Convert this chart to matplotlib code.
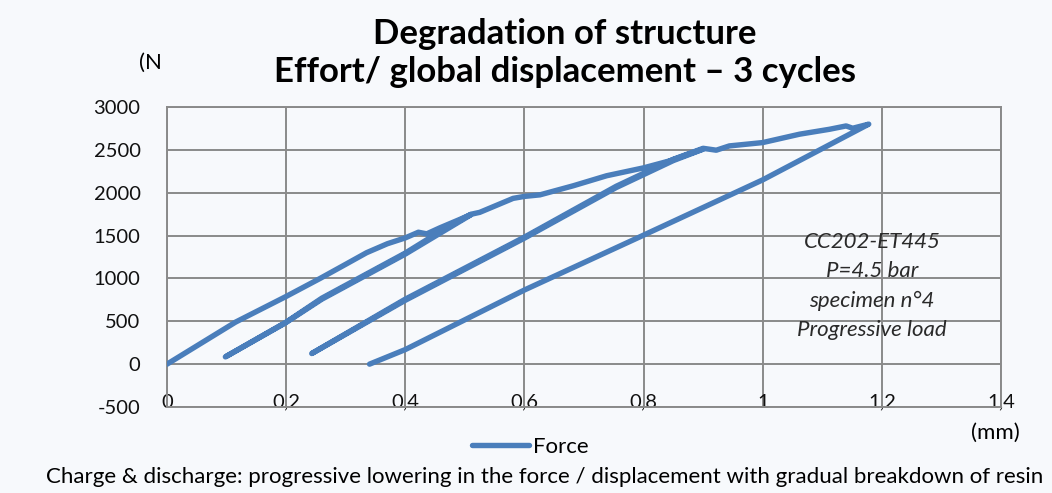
import numpy as np
import matplotlib
matplotlib.use("Agg")
import matplotlib.pyplot as plt
from matplotlib.ticker import FuncFormatter, MultipleLocator

plt.rcParams['font.family'] = ['Lato', 'DejaVu Sans']

# displacement (mm) / force (N), one path per segment
load1_x = [0, 0.115, 0.2, 0.257, 0.3, 0.335, 0.37, 0.4, 0.422, 0.436, 0.458, 0.492, 0.51]
load1_y = [0, 490, 790, 1000, 1165, 1300, 1405, 1473, 1539, 1520, 1590, 1690, 1745]
unload1_x = [0.51, 0.4, 0.26, 0.198, 0.098]
unload1_y = [1742, 1284, 758, 478, 85]
reload1_x = [0.098, 0.2, 0.26, 0.4, 0.458, 0.51]
reload1_y = [85, 490, 770, 1296, 1545, 1748]
load2_x = [0.51, 0.525, 0.581, 0.6, 0.626, 0.682, 0.738, 0.8, 0.844, 0.9]
load2_y = [1748, 1771, 1934, 1957, 1975, 2081, 2198, 2290, 2372, 2510]
unload2_x = [0.9, 0.85, 0.754, 0.6, 0.4, 0.243]
unload2_y = [2508, 2375, 2060, 1470, 745, 124]
reload2_x = [0.243, 0.4, 0.6, 0.754, 0.85, 0.9]
reload2_y = [124, 758, 1482, 2075, 2390, 2518]
load3_x = [0.9, 0.922, 0.944, 1.0, 1.062, 1.112, 1.14, 1.151, 1.178]
load3_y = [2518, 2496, 2546, 2585, 2683, 2740, 2779, 2752, 2800]
unload3_x = [1.178, 1.0, 0.8, 0.6, 0.4, 0.34]
unload3_y = [2800, 2150, 1505, 865, 170, 0]

title = "Degradation of structure\nEffort/ global displacement \u2013 3 cycles"
note_lines = ["CC202-ET445", "P=4.5 bar", "specimen n\u00b04", "Progressive load"]
caption = ("Charge & discharge: progressive lowering in the force / displacement "
           "with gradual breakdown of resin")

disp = np.concatenate([load1_x, unload1_x, reload1_x, load2_x,
                       unload2_x, reload2_x, load3_x, unload3_x])
force = np.concatenate([load1_y, unload1_y, reload1_y, load2_y,
                        unload2_y, reload2_y, load3_y, unload3_y])

bg = '#f7f9fc'
blue = '#4a7ebb'
W, H = 1052, 493

fig = plt.figure(figsize=(W / 100, H / 100), dpi=100, facecolor=bg)
ax = fig.add_axes([167 / W, 1 - 407 / H, (1001 - 167) / W, (407 - 107) / H])
ax.set_facecolor(bg)

ax.plot(disp, force, color=blue, lw=3.9, solid_capstyle='round',
        solid_joinstyle='round', label='Force', zorder=3)

ax.set_xlim(0, 1.4)
ax.set_ylim(-500, 3000)
ax.xaxis.set_major_locator(MultipleLocator(0.2))
ax.yaxis.set_major_locator(MultipleLocator(500))
ax.xaxis.set_major_formatter(FuncFormatter(lambda v, p: f"{v:g}".replace('.', ',')))
ax.yaxis.set_major_formatter(FuncFormatter(lambda v, p: f"{v:.0f}"))
ax.grid(True, color='#8a8a8a', lw=1.4, zorder=1)
for s in ax.spines.values():
    s.set_color('#8a8a8a')
    s.set_linewidth(1.4)
ax.tick_params(length=0, labelsize=14.5, colors='#111111')
ax.tick_params(axis='y', pad=19)
ax.tick_params(axis='x', pad=2.6)
for lbl in ax.get_xticklabels():
    lbl.set_va('bottom')

fig.text(565 / W, 1 - 53 / H, title, ha='center', va='center', fontsize=25,
         fontweight='bold', linespacing=1.25)
fig.text(139 / W, 1 - 63 / H, "(N", ha='left', va='center', fontsize=16)
fig.text(995 / W, 1 - 433 / H, "(mm)", ha='center', va='center', fontsize=16)

for i, line in enumerate(note_lines):
    fig.text(872 / W, 1 - (242 + 29.3 * i) / H, line, ha='center', va='center',
             fontsize=16, style='italic', color='#2a2a2a')

fig.legend(loc='center', bbox_to_anchor=(530 / W, 1 - 447 / H), frameon=False,
           fontsize=16, handlelength=2.6, handletextpad=0.15)
fig.text(545 / W, 1 - 477 / H, caption, ha='center', va='center', fontsize=16)

fig.savefig('out.png', dpi=100, facecolor=bg)
